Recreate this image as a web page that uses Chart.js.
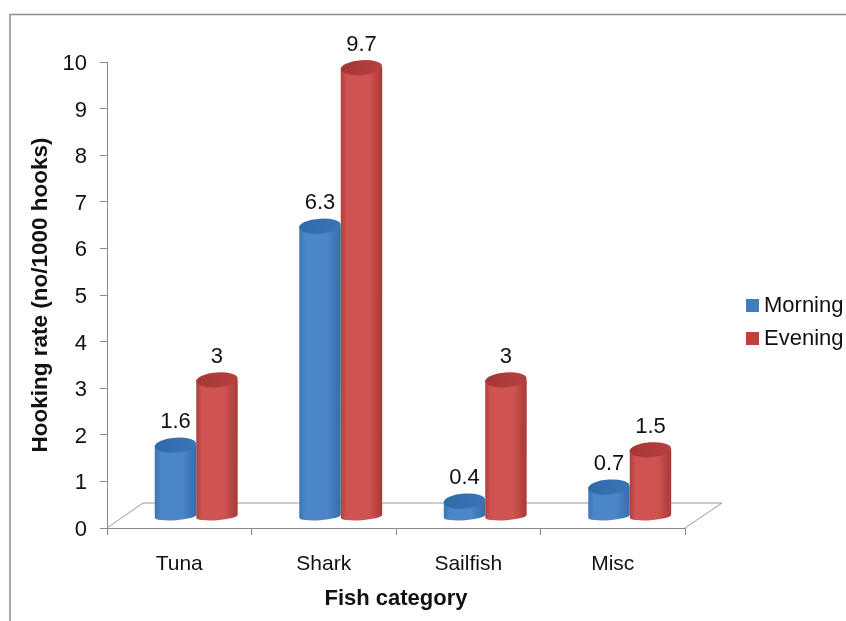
<!DOCTYPE html>
<html>
<head>
<meta charset="utf-8">
<title>Hooking rate</title>
<script src="https://cdn.jsdelivr.net/npm/chart.js@4"></script>
<style>
html,body{margin:0;padding:0;background:#fff;}
#wrap{position:relative;width:846px;height:621px;}
</style>
</head>
<body>
<div id="wrap"><canvas id="hookChart" width="846" height="621"></canvas></div>
<script>
const categories = ["Tuna","Shark","Sailfish","Misc"];
const morning = [1.6,6.3,0.4,0.7];
const evening = [3,9.7,3,1.5];
const yTicks = [0,1,2,3,4,5,6,7,8,9,10];

const FONT = '"Liberation Sans", Arial, sans-serif';
const TEXT = "#111";
const AXIS = "#8a8a8a";
// the bars stand on a floor set back from the axes
const depthX = 17, depthY = -8.3;
const capRy = 7.5, footRy = 4, tilt = -0.07;

const shades = [
    {legend:"#3f7cc4", left:"#3d75b3", mid:"#4a86c8", right:"#386ca6", capL:"#2f6aa8", capR:"#3a76b6"},
    {legend:"#c0403c", left:"#ad403e", mid:"#cf5350", right:"#a63a38", capL:"#a53634", capR:"#b54240"}
];

const cylinders = {
    id:"cylinders",
    beforeDraw(chart){
        const c = chart.ctx;
        c.save();
        c.strokeStyle = "#8c8c8c";
        c.lineWidth = 1.5;
        c.beginPath();
        c.moveTo(10,621);
        c.lineTo(10,14.5);
        c.lineTo(846,14.5);
        c.stroke();
        c.restore();
    },
    beforeDatasetsDraw(chart){
        const c = chart.ctx, a = chart.chartArea;
        c.save();
        c.strokeStyle = "#9a9a9a";
        c.lineWidth = 1;
        c.beginPath();
        c.moveTo(a.left,a.bottom);
        c.lineTo(a.left+36,a.bottom-25);
        c.lineTo(a.right+37,a.bottom-25);
        c.lineTo(a.right,a.bottom);
        c.stroke();
        c.restore();
    },
    beforeDatasetDraw(chart,args){
        const c = chart.ctx, s = shades[args.index];
        args.meta.data.forEach(el=>{
            const p = el.getProps(["x","y","base","width"],true);
            const x = p.x+depthX, top = p.y+depthY, foot = p.base+depthY-3, r = p.width/2;
            const g = c.createLinearGradient(x-r,0,x+r,0);
            g.addColorStop(0,s.left);
            g.addColorStop(0.14,s.mid);
            g.addColorStop(0.68,s.mid);
            g.addColorStop(1,s.right);
            c.save();
            c.fillStyle = g;
            c.beginPath();
            c.moveTo(x-r,top);
            c.lineTo(x-r,foot);
            c.ellipse(x,foot,r,footRy,tilt,Math.PI,0,true);
            c.lineTo(x+r,top);
            c.closePath();
            c.fill();
            const cap = c.createLinearGradient(x-r,0,x+r,0);
            cap.addColorStop(0,s.capL);
            cap.addColorStop(1,s.capR);
            c.fillStyle = cap;
            c.beginPath();
            c.ellipse(x,top,r,capRy,tilt,0,Math.PI*2);
            c.fill();
            c.restore();
        });
        return false;
    },
    afterDatasetsDraw(chart){
        const c = chart.ctx;
        c.save();
        c.font = "22px "+FONT;
        c.fillStyle = TEXT;
        c.textAlign = "center";
        c.textBaseline = "middle";
        chart.data.datasets.forEach((ds,i)=>{
            chart.getDatasetMeta(i).data.forEach((el,j)=>{
                c.fillText(String(ds.data[j]),el.x+depthX,el.y+depthY-23);
            });
        });
        c.restore();
    },
    afterDraw(chart){
        // legend sits right of the floor, small squares with tight text
        const c = chart.ctx;
        c.save();
        c.font = "22px "+FONT;
        c.textBaseline = "middle";
        chart.data.datasets.forEach((ds,i)=>{
            const y = 305.5+i*33;
            c.fillStyle = ds.backgroundColor;
            c.fillRect(746,y-6.5,13,13);
            c.fillStyle = TEXT;
            c.fillText(ds.label,764,y+0.5);
        });
        c.restore();
    }
};

new Chart(document.getElementById("hookChart"),{
    type:"bar",
    data:{
        labels:categories,
        datasets:[
            {label:"Morning",data:morning,backgroundColor:shades[0].legend},
            {label:"Evening",data:evening,backgroundColor:shades[1].legend}
        ]
    },
    options:{
        responsive:false,
        animation:false,
        categoryPercentage:0.574,
        barPercentage:1,
        layout:{padding:{top:62,right:161,left:0,bottom:0}},
        plugins:{legend:{display:false},tooltip:{enabled:false}},
        scales:{
            x:{
                afterFit(s){ s.height = 93; },
                grid:{drawOnChartArea:false,color:AXIS,tickLength:7},
                border:{color:AXIS},
                ticks:{color:TEXT,font:{family:FONT,size:21},padding:17,maxRotation:0},
                title:{display:true,text:"Fish category",color:TEXT,font:{family:FONT,size:22,weight:"bold"},padding:{top:0,bottom:9}}
            },
            y:{
                min:0,max:10,
                afterFit(s){ s.width = 107; },
                afterBuildTicks(s){ s.ticks = yTicks.map(v=>({value:v})); },
                grid:{drawOnChartArea:false,color:AXIS,tickLength:7},
                border:{color:AXIS},
                ticks:{color:TEXT,font:{family:FONT,size:22},padding:13,labelOffset:2},
                title:{display:true,text:"Hooking rate (no/1000 hooks)",color:TEXT,font:{family:FONT,size:22.5,weight:"bold"},padding:{top:27,bottom:0}}
            }
        }
    },
    plugins:[cylinders]
});
</script>
</body>
</html>
